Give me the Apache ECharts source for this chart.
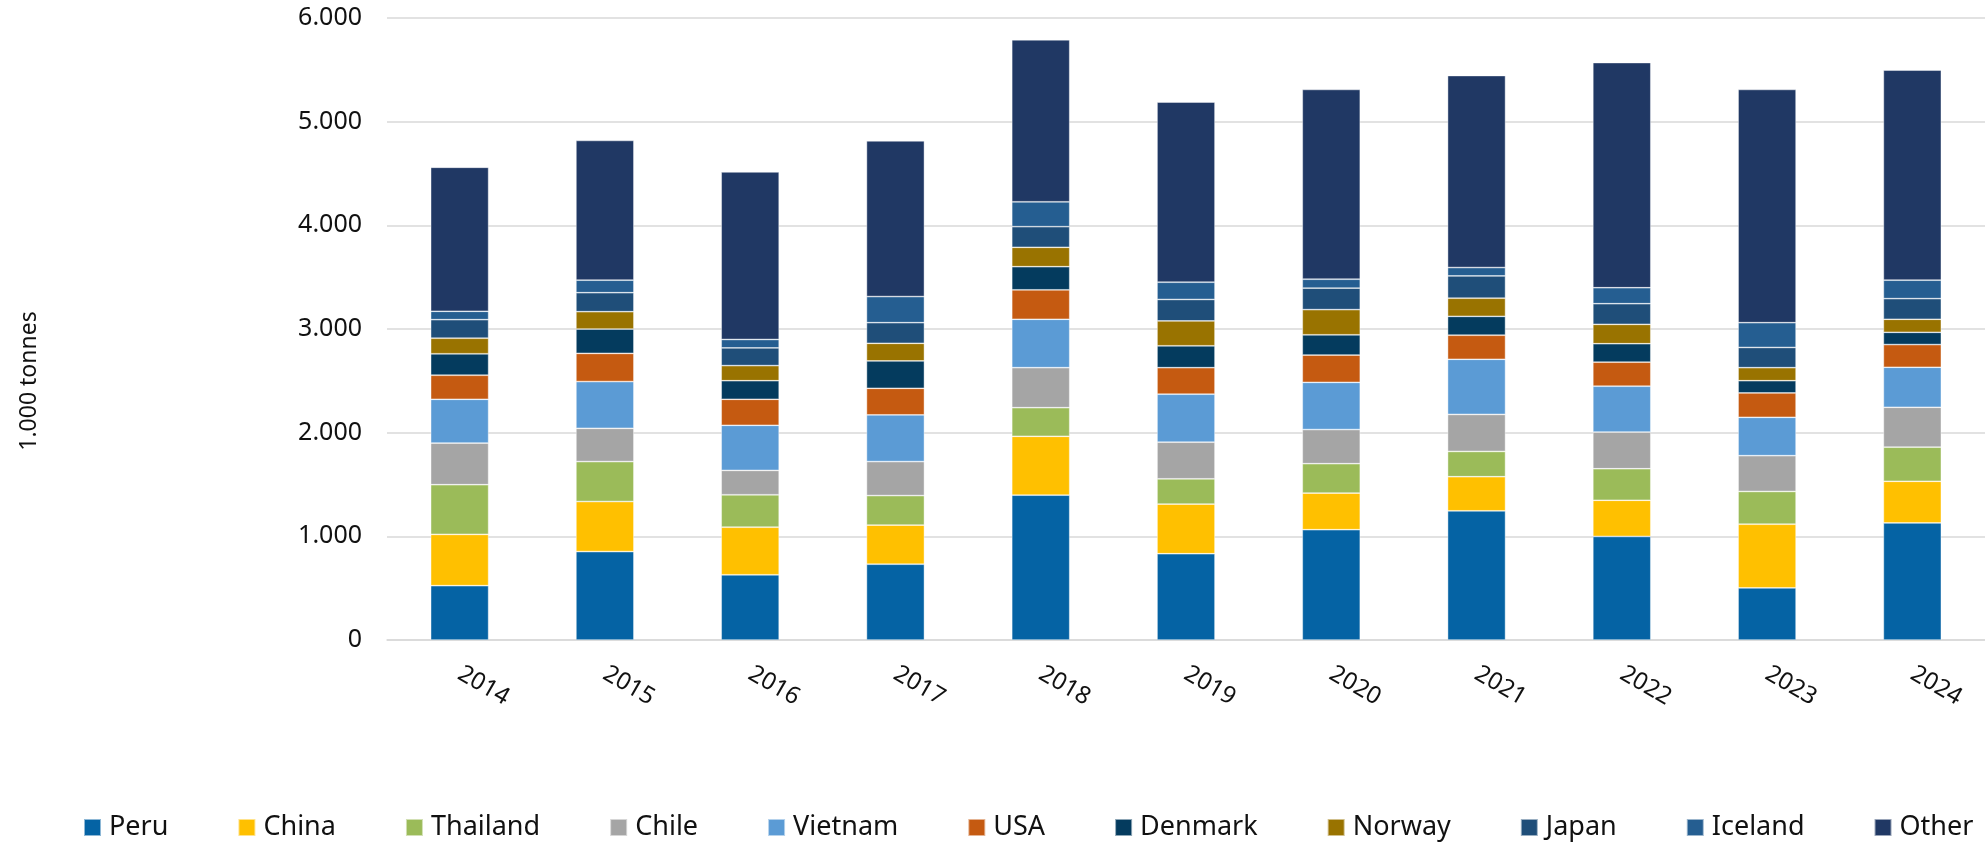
<!DOCTYPE html>
<html>
<head>
<meta charset="utf-8">
<script src="https://cdn.jsdelivr.net/npm/echarts@6/dist/echarts.min.js"></script>
<style>
html,body{margin:0;padding:0;background:#fff;}
#chart{width:1985px;height:845px;}
</style>
</head>
<body>
<div id="chart"></div>
<script>
// ---- data ----
const categories = ['2014','2015','2016','2017','2018','2019','2020','2021','2022','2023','2024'];
const yTicks = [0, 1000, 2000, 3000, 4000, 5000, 6000];
const yAxisTitle = '1.000 tonnes';

const seriesNames = ['Peru','China','Thailand','Chile','Vietnam','USA','Denmark','Norway','Japan','Iceland','Other'];
const peru     = [524, 853, 629, 731, 1397, 832, 1064, 1246, 999, 503, 1129];
const china    = [495, 483, 459, 377, 568, 479, 353, 329, 349, 614, 402];
const thailand = [479, 385, 313, 285, 276, 244, 284, 244, 304, 316, 329];
const chile    = [402, 321, 235, 328, 386, 353, 329, 357, 354, 345, 385];
const vietnam  = [422, 451, 435, 451, 467, 463, 455, 532, 442, 370, 386];
const usa      = [232, 272, 251, 256, 284, 256, 264, 232, 232, 235, 219];
const denmark  = [207, 235, 179, 264, 223, 211, 195, 182, 178, 118, 118];
const norway   = [150, 167, 146, 170, 187, 240, 243, 175, 187, 126, 126];
const japan    = [179, 183, 171, 199, 199, 207, 207, 215, 199, 195, 199];
const iceland  = [81, 121, 81, 252, 240, 166, 86, 81, 154, 239, 178];
const other    = [1389, 1348, 1616, 1502, 1563, 1738, 1831, 1852, 2172, 2250, 2026];

const seriesValues = [peru, china, thailand, chile, vietnam, usa, denmark, norway, japan, iceland, other];
const colors = ['#0563A4','#FFC000','#9BBB59','#A5A5A5','#5B9BD5','#C55A11','#043B5E','#997300','#1F4E79','#255E91','#203864'];

// ---- chart ----
const FONT = '"Noto Sans", "DejaVu Sans", sans-serif';
const chart = echarts.init(document.getElementById('chart'), null, {renderer: 'canvas'});

function fmt(v) {
  return String(v).replace(/\B(?=(\d{3})+(?!\d))/g, '.');
}

const option = {
  animation: false,
  backgroundColor: '#ffffff',
  textStyle: { fontFamily: FONT, color: '#111' },
  grid: { left: 387, right: -6, top: 18, bottom: 205, containLabel: false },
  legend: {
    data: seriesNames,
    left: 78,
    top: 809,
    itemWidth: 17,
    itemHeight: 17,
    itemGap: 69,
    icon: 'rect',
    width: 1950,
    textStyle: { fontFamily: FONT, fontSize: 27, color: '#111', padding: [0, 0, 0, 3] }
  },
  xAxis: {
    type: 'category',
    data: categories,
    axisLine: { show: true, lineStyle: { color: '#d9d9d9', width: 1.5 } },
    axisTick: { show: false },
    axisLabel: { rotate: -30, margin: 32, fontFamily: FONT, fontSize: 24, color: '#111' }
  },
  yAxis: {
    type: 'value',
    min: yTicks[0],
    max: yTicks[yTicks.length - 1],
    interval: yTicks[1] - yTicks[0],
    axisLine: { show: false },
    axisTick: { show: false },
    splitLine: { lineStyle: { color: '#d9d9d9', width: 1.5 } },
    axisLabel: { margin: 25, fontFamily: FONT, fontSize: 25, color: '#111', formatter: fmt }
  },
  graphic: [{
    type: 'text',
    x: 29,
    y: 381,
    rotation: Math.PI / 2,
    style: {
      text: yAxisTitle,
      fontFamily: FONT,
      fontSize: 23,
      fill: '#111',
      align: 'center',
      verticalAlign: 'middle'
    }
  }],
  series: seriesNames.map((name, i) => ({
    name: name,
    type: 'bar',
    stack: 'total',
    barWidth: 58,
    data: seriesValues[i],
    itemStyle: { color: colors[i], borderColor: 'rgba(255,255,255,0.55)', borderWidth: 0.75 },
    emphasis: { disabled: true }
  }))
};

chart.setOption(option);
</script>
</body>
</html>
